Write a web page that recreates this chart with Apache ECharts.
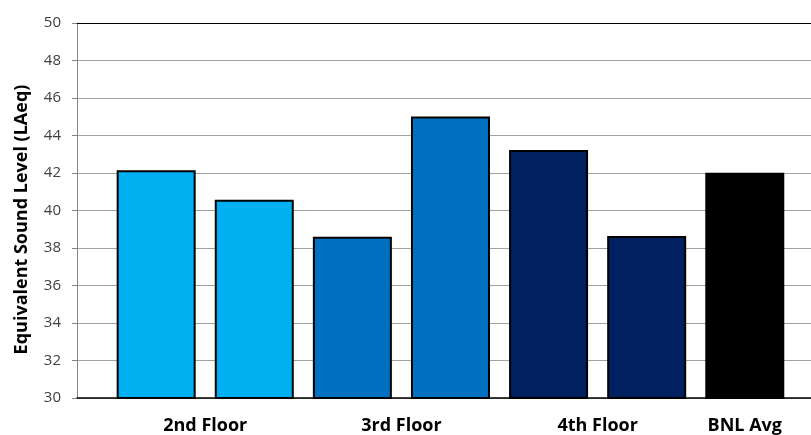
<!DOCTYPE html>
<html>
<head>
<meta charset="utf-8">
<script src="https://cdn.jsdelivr.net/npm/echarts@6/dist/echarts.min.js"></script>
<style>html,body{margin:0;padding:0;background:#fff}#c{width:811px;height:435px}</style>
</head>
<body>
<div id="c"></div>
<script>
// Data
var barNames = ['2nd Floor A', '2nd Floor B', '3rd Floor A', '3rd Floor B', '4th Floor A', '4th Floor B', 'BNL Avg'];
var barValues = [42.15, 40.58, 38.6, 45.02, 43.23, 38.64, 42.02];
var barColors = ['#00B0F0', '#00B0F0', '#0070C0', '#0070C0', '#002060', '#002060', '#000000'];
var groupLabels = ['2nd Floor', '3rd Floor', '4th Floor', 'BNL Avg'];
var groupLabelPos = [0.5, 2.5, 4.5, 6];
var yTicks = [30, 32, 34, 36, 38, 40, 42, 44, 46, 48, 50];

var chart = echarts.init(document.getElementById('c'));
var seriesData = barValues.map(function (v, i) {
  return { name: barNames[i], value: [i, v], itemStyle: { color: barColors[i] } };
});
chart.setOption({
  animation: false,
  grid: { left: 77, right: 0, top: 23, bottom: 36, containLabel: false },
  xAxis: [{
    type: 'value',
    min: -0.807,
    max: 6.675,
    position: 'bottom',
    splitLine: { show: false },
    axisTick: { show: false },
    axisLine: { show: true, onZero: false, lineStyle: { color: '#000', width: 1.5 } },
    axisLabel: {
      customValues: groupLabelPos,
      formatter: function (v) {
        var idx = groupLabelPos.indexOf(v);
        return idx >= 0 ? groupLabels[idx] : '';
      },
      margin: 19,
      color: '#000',
      fontFamily: 'Open Sans',
      fontWeight: 'bold',
      fontSize: 18
    }
  }, {
    type: 'value',
    min: -0.807,
    max: 6.675,
    position: 'top',
    splitLine: { show: false },
    axisTick: { show: false },
    axisLabel: { show: false },
    axisLine: { show: true, onZero: false, lineStyle: { color: '#000', width: 1 } }
  }],
  yAxis: {
    type: 'value',
    min: yTicks[0],
    max: yTicks[yTicks.length - 1],
    interval: 2,
    name: 'Equivalent Sound Level (LAeq)',
    nameLocation: 'middle',
    nameGap: 46,
    nameTextStyle: { fontFamily: 'Open Sans', fontWeight: 'bold', fontSize: 18, color: '#000', padding: [0, 18, 0, 0] },
    axisLine: { show: true, onZero: false, lineStyle: { color: '#868686' } },
    axisTick: { show: true, inside: false, length: 5, lineStyle: { color: '#868686' } },
    axisLabel: { margin: 16, color: '#404040', fontFamily: 'Open Sans', fontSize: 15, align: 'right' },
    splitLine: { show: true, lineStyle: { color: '#a0a0a0', width: 1 } }
  },
  series: [{
    type: 'bar',
    barWidth: 79,
    data: seriesData,
    itemStyle: { borderColor: '#000', borderWidth: 2 }
  }]
});
</script>
</body>
</html>
